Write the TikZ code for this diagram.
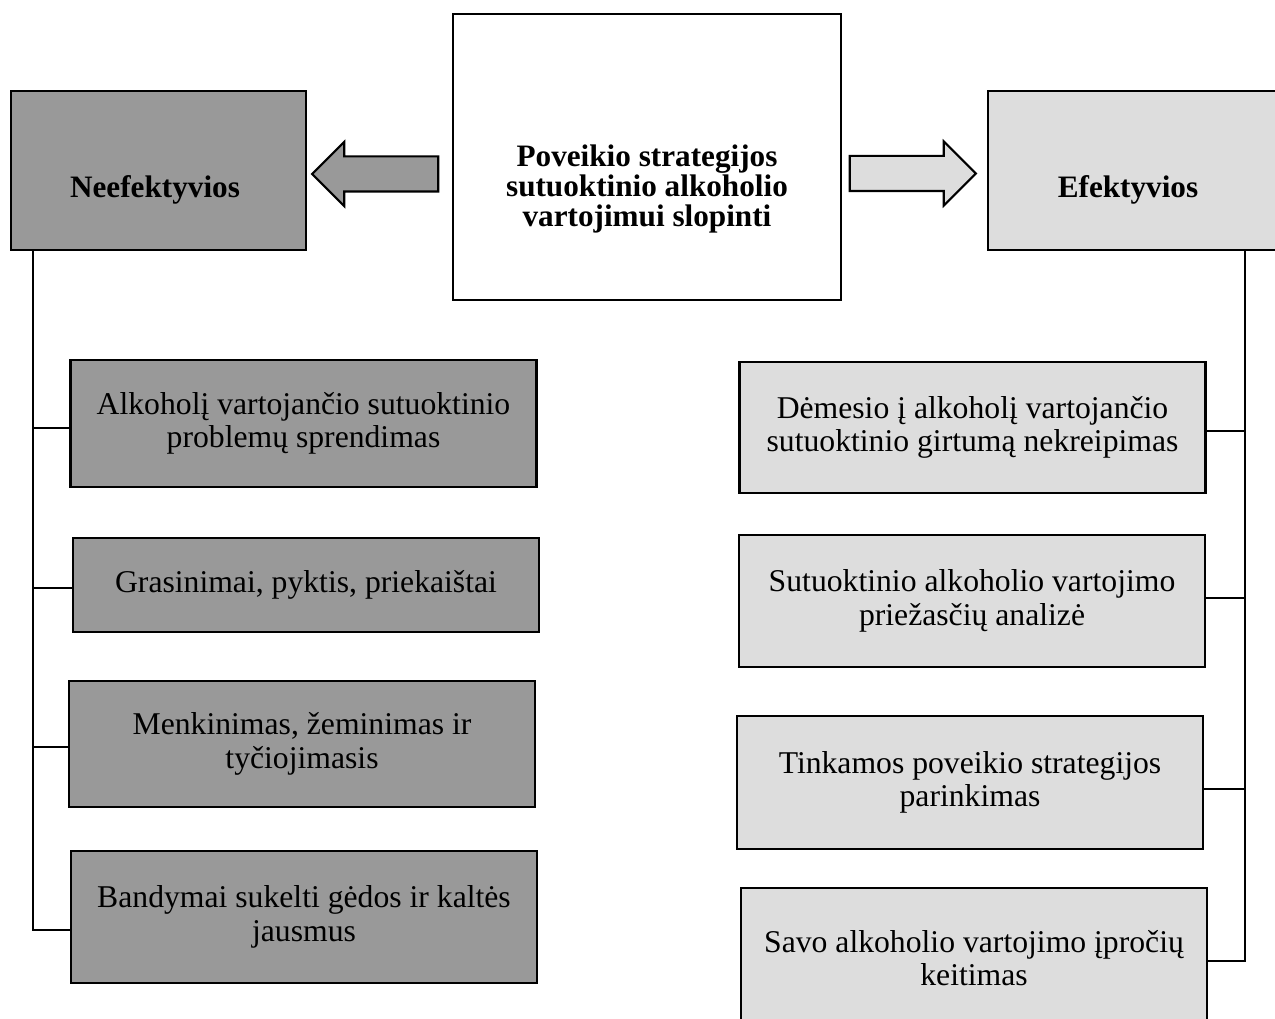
\documentclass[tikz,border=0pt]{standalone}
\usepackage{fontspec}
\setmainfont{Liberation Serif}
\usetikzlibrary{shapes.arrows}
\definecolor{darkbox}{gray}{0.6}
\definecolor{lightbox}{gray}{0.867}
\tikzset{
  box/.style={draw, line width=1.1pt, align=center, inner sep=0pt, font=\fontsize{13.2}{14}\selectfont},
  leftbox/.style={box, fill=darkbox, minimum width=194.2pt},
  rightbox/.style={box, fill=lightbox, minimum width=194.2pt},
  headtext/.style={align=center, font=\fontsize{13}{12.5}\selectfont\bfseries},
  link/.style={line width=0.9pt},
  blockarrow/.style={single arrow, draw, line width=0.9pt, inner sep=0pt, inner ysep=6.875pt,
    minimum height=52.5pt, single arrow head extend=6.04pt, single arrow head indent=0pt}
}
\begin{document}
\begin{tikzpicture}[x=0.41667pt,y=-0.41667pt]
            \useasboundingbox (0,0) rectangle (1275,1019);
            % top row
            \node[box, minimum width=161.7pt, minimum height=119.2pt] at (647,157) (main) {};
            \node[headtext] at (647,189) (maint) {Poveikio strategijos\\sutuoktinio alkoholio\\vartojimui slopinti};
            \node[box, fill=darkbox, minimum width=122.9pt, minimum height=66.25pt] at (158.5,170.5) (neef) {};
            \node[headtext] at (155,190) (neeft) {Neefektyvios};
            \node[box, fill=lightbox, minimum width=125.8pt, minimum height=66.25pt] at (1139,170.5) (ef) {};
            \node[headtext] at (1128,190) (eft) {Efektyvios};
            \node[blockarrow, fill=darkbox, shape border rotate=180] at (384,174) (arrl) {};
            \node[blockarrow, fill=lightbox] at (904,173.5) (arrr) {};
            % left column
            \node[leftbox, minimum height=52.9pt] at (303.5,423.5) (n1) {Alkoholį vartojančio sutuoktinio\\problemų sprendimas};
            \node[leftbox, minimum height=39.2pt] at (306,585) (n2) {Grasinimai, pyktis, priekaištai};
            \node[leftbox, minimum height=52.5pt] at (302,744) (n3) {Menkinimas, žeminimas ir\\tyčiojimasis};
            \node[leftbox, minimum height=55pt] at (304,917) (n4) {Bandymai sukelti gėdos ir kaltės\\jausmus};
            % right column
            \node[rightbox, minimum height=54.6pt] at (972.5,427.5) (e1) {Dėmesio į alkoholį vartojančio\\sutuoktinio girtumą nekreipimas};
            \node[rightbox, minimum height=55pt] at (972,601) (e2) {Sutuoktinio alkoholio vartojimo\\priežasčių analizė};
            \node[rightbox, minimum height=55.4pt] at (970,782.5) (e3) {Tinkamos poveikio strategijos\\parinkimas};
            \node[rightbox, minimum height=58.3pt] at (974,958) (e4) {Savo alkoholio vartojimo įpročių\\keitimas};
            % connectors
            \coordinate (lx) at (33,0);
            \coordinate (rx) at (1245,0);
            \draw[link] (lx |- neef.south) |- ([yshift=-5.4pt]n4.west);
            \foreach \n/\s in {n1/-1.9pt,n2/-1.2pt,n3/-1.2pt}
              \draw[link] ([yshift=\s]\n.west) -- ([yshift=\s]\n.west -| lx);
            \draw[link] (rx |- ef.south) |- ([yshift=-1.2pt]e4.east);
            \foreach \n/\s in {e1/-1.5pt,e2/1.2pt,e3/-2.7pt}
              \draw[link] ([yshift=\s]\n.east) -- ([yshift=\s]\n.east -| rx);
        \end{tikzpicture}
\end{document}
